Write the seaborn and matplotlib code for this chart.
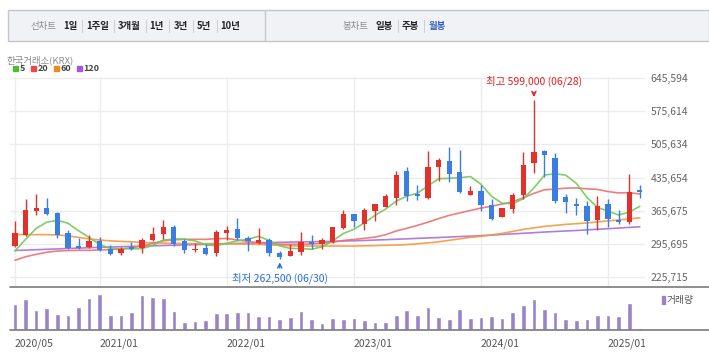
import numpy as np
import pandas as pd
import matplotlib
matplotlib.use("Agg")
import matplotlib.pyplot as plt
from matplotlib.patches import Rectangle
from matplotlib.lines import Line2D
import seaborn as sns

# ---------------- data (prices in thousand won) ----------------
months = pd.period_range("2020-05", "2025-04", freq="M").strftime("%Y/%m").tolist()

open_k = [290.6, 313.2, 363.8, 370.1, 359.6, 317.4, 290.0, 287.9, 300.5, 283.7,
          275.2, 287.9, 285.8, 302.7, 315.3, 330.1, 300.5, 282.2, 286.4, 275.2,
          317.4, 325.8, 306.9, 297.8, 304.1, 276.7, 269.6, 278.0, 299.9, 295.7,
          299.9, 327.9, 357.5, 336.4, 363.8, 372.2, 393.3, 450.2, 400.2, 393.3,
          458.0, 471.3, 448.1, 399.6, 408.1, 376.4, 351.8, 368.6, 398.1, 465.6,
          492.4, 477.6, 395.4, 380.6, 374.3, 345.4, 380.6, 345.4, 341.2, 410.2]
high_k = [342.7, 391.2, 401.7, 393.3, 361.7, 323.7, 306.9, 313.2, 309.0, 293.6,
          289.4, 299.1, 308.3, 330.1, 345.4, 334.3, 304.8, 296.3, 294.2, 324.4,
          332.8, 349.0, 311.7, 327.9, 307.5, 281.0, 295.7, 319.5, 313.2, 307.5,
          330.1, 365.9, 357.5, 370.1, 380.6, 401.7, 448.7, 457.2, 419.2, 490.9,
          476.9, 500.8, 494.5, 417.1, 419.2, 391.2, 371.6, 403.2, 489.6, 599.0,
          493.8, 488.2, 401.7, 393.3, 384.9, 397.5, 389.1, 365.9, 443.1, 420.7]
low_k = [288.5, 311.7, 356.0, 356.0, 306.9, 283.7, 283.7, 285.8, 281.0, 272.0,
         271.7, 282.2, 275.2, 301.2, 304.8, 290.6, 275.2, 278.0, 272.5, 269.6,
         303.3, 303.3, 280.1, 295.7, 269.6, 262.5, 269.0, 271.7, 285.2, 285.2,
         297.8, 325.8, 330.7, 325.2, 343.3, 372.2, 376.4, 384.9, 387.0, 391.2,
         427.7, 425.6, 402.4, 399.6, 364.4, 346.0, 351.8, 359.6, 391.2, 444.5,
         436.9, 381.3, 360.2, 356.0, 315.9, 324.4, 330.7, 337.0, 337.0, 391.8]
close_k = [317.4, 365.9, 370.1, 358.1, 313.2, 287.3, 285.8, 300.5, 281.6, 273.1,
           283.7, 284.3, 302.7, 315.3, 330.1, 295.7, 282.2, 284.3, 273.1, 320.2,
           324.4, 306.9, 300.5, 304.1, 275.9, 267.4, 279.5, 299.9, 295.7, 302.7,
           330.1, 357.5, 343.3, 365.9, 380.6, 397.5, 440.3, 397.5, 396.0, 458.6,
           473.4, 443.9, 404.5, 408.1, 376.4, 346.9, 370.1, 399.0, 461.4, 490.3,
           482.5, 385.5, 383.4, 374.9, 343.3, 374.3, 347.5, 341.2, 405.9, 404.5]
volume = [78, 93, 60, 66, 48, 45, 69, 96, 108, 45,
          45, 54, 105, 99, 96, 57, 24, 27, 30, 51,
          51, 54, 54, 42, 42, 33, 39, 57, 33, 21,
          36, 33, 36, 30, 24, 24, 45, 60, 45, 69,
          39, 33, 63, 36, 39, 42, 36, 54, 75, 93,
          63, 54, 33, 30, 33, 45, 45, 42, 81, 6]
# moving-average values before enough in-chart history exists
ma5_head_k = [280.1, 304.8, 327.9, 341.2]
ma20_head_k = [260.5, 267.9, 273.1, 277.4, 280.1, 281.0, 281.6, 281.6, 282.2, 283.1,
               284.3, 286.8, 291.1, 296.3, 301.6, 303.7, 304.8, 304.8, 304.8]
ma60_k = [314.7, 314.7, 314.7, 314.7, 314.2, 312.1, 309.0, 305.8, 303.3, 301.6,
          300.5, 299.5, 298.4, 297.4, 296.8, 296.3, 295.9, 295.7, 295.7, 295.7,
          295.3, 295.3, 294.6, 294.2, 293.2, 292.1, 291.1, 290.6, 290.6, 290.6,
          290.6, 290.6, 290.6, 291.1, 291.5, 292.1, 292.7, 293.6, 295.3, 297.4,
          299.5, 302.7, 305.8, 309.0, 311.1, 314.2, 317.4, 321.6, 325.8, 329.0,
          332.2, 334.3, 336.4, 337.9, 339.5, 341.7, 343.8, 345.9, 348.0, 350.5]
ma120_k = [281.2, 282.0, 282.8, 283.7, 284.5, 285.4, 286.2, 287.1, 287.9, 288.5,
           289.2, 289.8, 290.4, 291.1, 291.7, 292.3, 293.0, 293.6, 294.2, 294.9,
           295.5, 296.1, 296.8, 297.4, 298.0, 298.4, 298.9, 299.3, 299.7, 300.1,
           300.5, 301.2, 301.8, 302.4, 303.3, 304.1, 305.0, 305.8, 306.9, 307.7,
           308.6, 309.6, 310.7, 311.5, 312.6, 313.8, 315.1, 316.4, 317.6, 318.9,
           320.2, 321.4, 322.5, 323.5, 324.8, 326.1, 327.3, 328.6, 330.1, 331.3]

xtick_labels = ["2020/05", "2021/01", "2022/01", "2023/01", "2024/01", "2025/01"]
ytick_values = [225715, 295695, 365675, 435654, 505634, 575614, 645594]
ytick_labels = ["225,715", "295,695", "365,675", "435,654", "505,634", "575,614", "645,594"]
high_label = "최고 599,000 (06/28)"
low_label = "최저 262,500 (06/30)"

UNIT = 1000
df = pd.DataFrame({
    "month": months,
    "open": np.array(open_k) * UNIT, "high": np.array(high_k) * UNIT,
    "low": np.array(low_k) * UNIT, "close": np.array(close_k) * UNIT,
    "volume": volume,
})
df["i"] = np.arange(len(df))
ma5 = df["close"].rolling(5).mean().to_numpy()
ma5[:4] = np.array(ma5_head_k) * UNIT
ma20 = df["close"].rolling(20).mean().to_numpy()
ma20[:19] = np.array(ma20_head_k) * UNIT
df["ma5"], df["ma20"] = ma5, ma20
df["ma60"] = np.array(ma60_k) * UNIT
df["ma120"] = np.array(ma120_k) * UNIT

# ---------------- style ----------------
sns.set_theme(style="white")
plt.rcParams["font.family"] = ["Noto Sans CJK KR", "DejaVu Sans"]

W, H = 709, 363
fig = plt.figure(figsize=(W / 100, H / 100), dpi=100)
def fx(p): return p / W
def fy(p): return 1 - p / H

UP, DOWN = "#e2302a", "#3a7ee2"
GRID = "#ececec"

ax = fig.add_axes([fx(10), fy(287), fx(645) - fx(10), fy(77) - fy(287)])
axv = fig.add_axes([fx(10), fy(330), fx(645) - fx(10), fy(287) - fy(330)])

px_per_won = 2116.0
y_top = 645594 + 1.3 * px_per_won
y_bot = 225715 - 10.3 * px_per_won
xlim = (-0.47, 59.49)

tick_pos = [months.index(m) for m in xtick_labels]

ax.set_xlim(*xlim)
ax.set_ylim(y_bot, y_top)
ax.set_xticks(tick_pos)
ax.set_yticks(ytick_values)
ax.set_yticklabels(ytick_labels)
ax.yaxis.tick_right()
ax.tick_params(axis="x", length=0, labelbottom=False)
ax.tick_params(axis="y", length=0, pad=4, labelsize=7.5, labelcolor="#666666")
ax.grid(True, color=GRID, lw=1)
for s in ax.spines.values():
    s.set_visible(False)

# moving averages
ma_styles = [("ma120", "#a96fd8"), ("ma60", "#f39a3e"), ("ma20", "#ef6f6f"), ("ma5", "#72c95a")]
for col, c in ma_styles:
    sns.lineplot(data=df, x="i", y=col, color=c, lw=1.2, alpha=0.9, ax=ax, zorder=2)
ax.set_xlabel("")
ax.set_ylabel("")

# candles
up = df["close"] >= df["open"]
colors = np.where(up, UP, DOWN)
body_bottom = np.minimum(df["open"], df["close"])
body_h = np.maximum(np.abs(df["close"] - df["open"]), 3000)
ax.vlines(df["i"], df["low"], df["high"], colors=colors, lw=1.0, zorder=3)
ax.bar(df["i"], body_h, bottom=body_bottom, width=0.5, color=colors, lw=0, zorder=4)

# high / low annotations
i_hi = int(df["high"].idxmax())
i_lo = int(df["low"].idxmin())
ax.annotate(high_label, xy=(i_hi, 645594 - 18.7 * px_per_won),
            xytext=(i_hi, 645594 - 3.4 * px_per_won), ha="center", va="center",
            fontsize=7.5, color="#e02020",
            arrowprops=dict(arrowstyle="->", color="#e02020", lw=1, shrinkA=1, shrinkB=0),
            zorder=6)
ax.annotate(low_label, xy=(i_lo, 295695 - 18.7 * px_per_won),
            xytext=(i_lo, 225715 - 1.6 * px_per_won), ha="center", va="center",
            fontsize=7.5, color="#2a6fd6",
            arrowprops=dict(arrowstyle="->", color="#2a6fd6", lw=1, shrinkA=1, shrinkB=0),
            zorder=6, annotation_clip=False)

# volume
sns.barplot(data=df, x="i", y="volume", color="#9a84c6", saturation=1, width=0.44,
            ax=axv, zorder=2)
axv.set_xlim(*xlim)
axv.set_ylim(0, 129)
axv.set_xlabel("")
axv.set_ylabel("")
axv.set_yticks([])
axv.set_xticks(tick_pos)
axv.set_xticklabels(xtick_labels)
for lab in axv.get_xticklabels():
    lab.set_ha("left")
axv.tick_params(axis="x", length=3, width=1, color="#777777", pad=3,
                labelsize=7.5, labelcolor="#555555")
for s in axv.spines.values():
    s.set_visible(False)
axv.grid(False)

for yy in (287, 330):
    fig.add_artist(Line2D([fx(10), fx(709)], [fy(yy), fy(yy)], color="#7a7a7a", lw=1.2))

# volume legend
fig.add_artist(Rectangle((fx(662), fy(304)), fx(3), fy(296) - fy(304), color="#9a84c6",
                         transform=fig.transFigure))
fig.text(fx(667), fy(300), "거래량", fontsize=7, color="#555555", va="center", ha="left")

# top navigation bar
fig.add_artist(Rectangle((fx(8), fy(41)), fx(709) - fx(8), fy(10) - fy(41),
                         facecolor="#f1f2f6", edgecolor="#c4c5cb", lw=1,
                         transform=fig.transFigure))
fig.add_artist(Line2D([fx(265), fx(265)], [fy(41), fy(10)], color="#c4c5cb", lw=1))
nav_y = fy(26)
nav_items = [("선차트", 43.5, "#8a8a8a", "normal"), ("1일", 70.5, "#222222", "bold"),
             ("1주일", 98, "#222222", "bold"), ("3개월", 129.5, "#222222", "bold"),
             ("1년", 156.5, "#222222", "bold"), ("3년", 180.5, "#222222", "bold"),
             ("5년", 204, "#222222", "bold"), ("10년", 230, "#222222", "bold"),
             ("봉차트", 355.5, "#8a8a8a", "normal"), ("일봉", 384.5, "#222222", "bold"),
             ("주봉", 410.5, "#222222", "bold"), ("월봉", 437.5, "#3061c2", "bold")]
for t, xx, c, w in nav_items:
    fig.text(fx(xx), nav_y, t, fontsize=6.8, color=c, fontweight=w, ha="center", va="center")
for xx in (82, 114, 145.5, 169, 192.5, 216.5, 397.5, 424):
    fig.add_artist(Line2D([fx(xx), fx(xx)], [fy(20), fy(32)], color="#cfd0d4", lw=0.8))

# market label and MA legend
fig.text(fx(7), fy(60), "한국거래소(KRX)", fontsize=6.8, color="#8c8c8c", ha="left", va="center")
leg = [("5", 13, "#52b83a"), ("20", 31, "#e84a4a"), ("60", 54, "#f08a20"), ("120", 77, "#a259d9")]
for t, xx, c in leg:
    fig.add_artist(Rectangle((fx(xx), fy(71)), fx(5), fy(66) - fy(71), color=c,
                             transform=fig.transFigure))
    fig.text(fx(xx + 6.5), fy(68.5), t, fontsize=6.5, color="#444444", fontweight="bold",
             ha="left", va="center")

fig.savefig("out.png", dpi=100)
